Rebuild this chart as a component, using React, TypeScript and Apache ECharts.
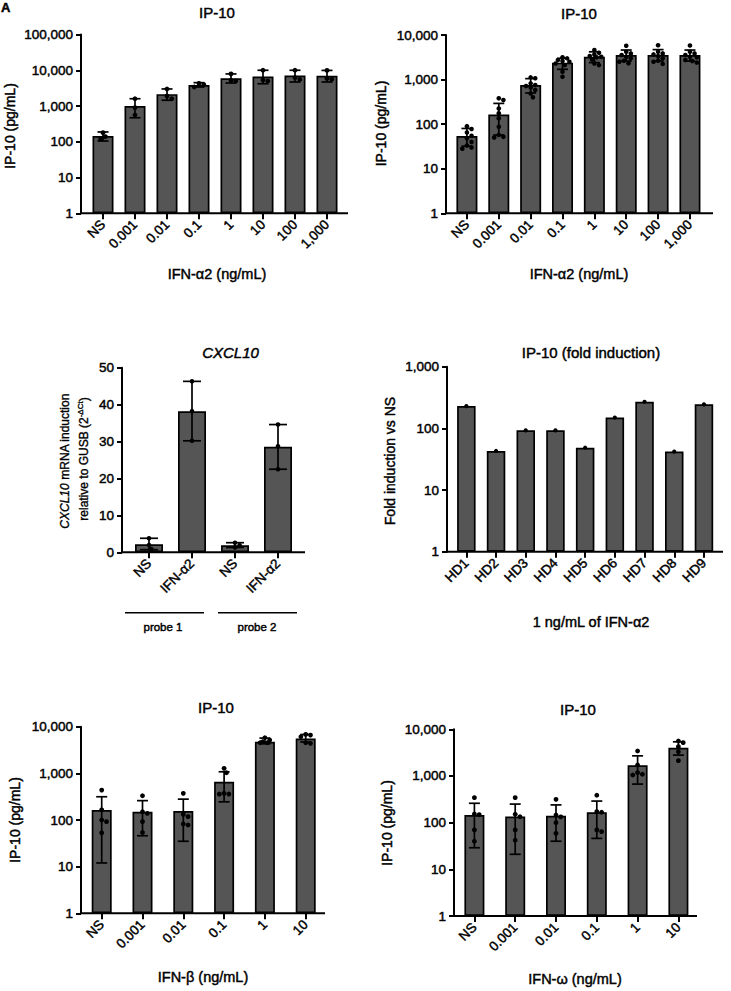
import React, { useEffect, useRef } from "react";
import * as echarts from "echarts";

const FONT = "'Liberation Sans', Arial, Helvetica, sans-serif";
const TB = 0.45; // slight text thickening

// ---------- DATA ----------
// Panel A: IP-10 (pg/mL) vs IFN-α2 dose
const catsA = ["NS", "0.001", "0.01", "0.1", "1", "10", "100", "1,000"];
const meanA = [145, 1000, 2150, 3850, 6000, 6700, 7100, 7000];
const lowA = [105, 470, 1450, 3400, 4400, 4200, 4700, 4700];
const highA = [188, 1600, 3000, 4500, 7900, 10000, 10000, 9900];
const dotsA = [
  [120, 140, 180],
  [1600, 900, 560],
  [3000, 1900, 1600],
  [4300, 4000, 3400],
  [7900, 5200, 5000],
  [10000, 5300, 5000],
  [10000, 6200, 5500],
  [9900, 5900, 5600],
];

// Panel B: IP-10 (pg/mL) vs IFN-α2 dose, 9 donors
const catsB = ["NS", "0.001", "0.01", "0.1", "1", "10", "100", "1,000"];
const meanB = [54, 165, 755, 2400, 3250, 3550, 3550, 3550];
const lowB = [32, 57, 500, 1700, 2400, 2600, 2600, 2600];
const highB = [80, 292, 1050, 3000, 4200, 4600, 4700, 4600];
const dotsB = [
  [90, 78, 65, 55, 48, 40, 33, 30, 28],
  [380, 347, 225, 175, 135, 87, 57, 52, 50],
  [1120, 1070, 822, 753, 715, 668, 582, 490, 400],
  [3150, 2990, 2740, 2600, 2500, 2300, 2110, 1500, 1155],
  [4600, 4000, 3670, 3360, 3240, 3150, 2830, 2300, 2110],
  [5730, 4200, 3860, 3550, 3240, 2990, 2640, 2510, 2310],
  [5900, 4200, 3860, 3670, 3360, 2990, 2640, 2510, 2250],
  [5800, 4200, 3860, 3550, 3240, 3150, 2740, 2600, 2400],
];

// Panel C: CXCL10 mRNA induction
const catsC = ["NS", "IFN-α2", "NS", "IFN-α2"];
const meanC = [2.2, 38.2, 1.9, 28.6];
const lowC = [0.7, 30.2, 1.3, 22.5];
const highC = [3.8, 46.3, 2.6, 34.6];
const dotsC = [
  [3.8, 2.0, 0.9],
  [46.3, 38.2, 30.2],
  [2.6, 1.9, 1.3],
  [34.6, 28.7, 22.5],
];
const groupsC = ["probe 1", "probe 2"];

// Panel D: fold induction per donor
const catsD = ["HD1", "HD2", "HD3", "HD4", "HD5", "HD6", "HD7", "HD8", "HD9"];
const foldD = [230, 43, 93, 93, 48.5, 150, 270, 42, 245];

// Panel E: IP-10 vs IFN-β
const catsE = ["NS", "0.001", "0.01", "0.1", "1", "10"];
const meanE = [163, 150, 155, 660, 4750, 5600];
const lowE = [12, 46, 35, 245, 4300, 4700];
const highE = [315, 260, 280, 1080, 5700, 6800];
const dotsE = [
  [437, 165, 100, 92, 53],
  [331, 150, 139, 92, 54],
  [373, 132, 118, 82, 78],
  [1280, 1030, 373, 360, 360],
  [5790, 5170, 4760, 4530, 4530],
  [6840, 6610, 6080, 4530, 4400],
];

// Panel F: IP-10 vs IFN-ω
const catsF = ["NS", "0.001", "0.01", "0.1", "1", "10"];
const meanF = [145, 135, 140, 167, 1700, 4000];
const lowF = [29, 21, 40, 46, 670, 2800];
const highF = [260, 250, 240, 290, 2700, 5400];
const dotsF = [
  [343, 153, 148, 70, 40],
  [343, 151, 134, 70, 42],
  [316, 146, 133, 100, 59],
  [386, 172, 167, 70, 64],
  [3430, 1720, 1176, 1087, 1050],
  [5620, 5170, 4250, 3310, 2130],
];

// ---------- PANELS ----------
type Panel = {
  cats: string[];
  means: number[];
  lows?: number[];
  highs?: number[];
  dots?: number[][];
  yType: "log" | "value";
  yMin: number;
  yMax: number;
  yInterval?: number;
  title: string;
  titleItalic?: boolean;
  xName?: string;
  yName?: string;
};

const PANELS: Panel[] = [
  { cats: catsA, means: meanA, lows: lowA, highs: highA, dots: dotsA, yType: "log", yMin: 1, yMax: 100000, title: "IP-10", xName: "IFN-α2 (ng/mL)", yName: "IP-10 (pg/mL)" },
  { cats: catsB, means: meanB, lows: lowB, highs: highB, dots: dotsB, yType: "log", yMin: 1, yMax: 10000, title: "IP-10", xName: "IFN-α2 (ng/mL)", yName: "IP-10 (pg/mL)" },
  { cats: catsC, means: meanC, lows: lowC, highs: highC, dots: dotsC, yType: "value", yMin: 0, yMax: 50, yInterval: 10, title: "CXCL10", titleItalic: true },
  { cats: catsD, means: foldD, dots: foldD.map((v) => [v]), yType: "log", yMin: 1, yMax: 1000, title: "IP-10 (fold induction)", xName: "1 ng/mL of IFN-α2", yName: "Fold induction vs NS" },
  { cats: catsE, means: meanE, lows: lowE, highs: highE, dots: dotsE, yType: "log", yMin: 1, yMax: 10000, title: "IP-10", xName: "IFN-β (ng/mL)", yName: "IP-10 (pg/mL)" },
  { cats: catsF, means: meanF, lows: lowF, highs: highF, dots: dotsF, yType: "log", yMin: 1, yMax: 10000, title: "IP-10", xName: "IFN-ω (ng/mL)", yName: "IP-10 (pg/mL)" },
];

// ---------- LAYOUT (pixels) ----------
const LAYOUT = [
  { yAxisX: 81, left: 87, band: 32, top: 34.5, bottom: 213.3, axisEnd: 348, barWidth: 21, cap: 11, dotR: 2.4, title: [217, 12], xName: [217, 274], yName: [10, 126] },
  { yAxisX: 446, left: 451, band: 31.86, top: 35, bottom: 213.3, axisEnd: 713, barWidth: 21, cap: 11, dotR: 2.3, title: [579, 13], xName: [579, 274], yName: [380.5, 123.5] },
  { yAxisX: 122, left: 127.5, band: 43, top: 367.7, bottom: 552.3, axisEnd: 305, barWidth: 28, cap: 18, dotR: 2.3, title: [230.5, 352], xName: null, yName: null },
  { yAxisX: 447, left: 451.5, band: 29.7, top: 366.7, bottom: 551.7, axisEnd: 723, barWidth: 18.5, cap: 0, dotR: 2.1, title: [591, 352], xName: [591, 622], yName: [389.5, 461] },
  { yAxisX: 81, left: 81.3, band: 40.8, top: 726.7, bottom: 913.3, axisEnd: 325, barWidth: 20, cap: 11, dotR: 2.4, title: [216, 707], xName: [203, 977], yName: [15, 820] },
  { yAxisX: 454, left: 454, band: 40.8, top: 729.3, bottom: 916, axisEnd: 697, barWidth: 20, cap: 11, dotR: 2.4, title: [578, 709], xName: [575, 979], yName: [386.7, 823] },
];

// panel C extras: group bars and two-line y-axis name
const C_GROUP_LINES = [
  { x1: 125, x2: 204, y: 612.7, label: [163, 627] },
  { x1: 218, x2: 297, y: 612.7, label: [257, 627] },
];
const C_YNAME = [
  [65, 461],
  [83, 459],
];

function swarm(ys: number[], d: number, maxOff: number): number[] {
  const order = ys.map((_, i) => i).sort((a, b) => ys[a] - ys[b]);
  const placed: { x: number; y: number }[] = [];
  const out = new Array(ys.length).fill(0);
  const step = d / 2;
  const cands: number[] = [0];
  for (let s = step; s <= maxOff + 0.01; s += step) {
    cands.push(s, -s);
  }
  for (const idx of order) {
    let best = 0;
    let bestScore = -1;
    for (const c of cands) {
      let minD = Infinity;
      for (const p of placed) {
        const dd = Math.hypot(p.x - c, p.y - ys[idx]);
        if (dd < minD) minD = dd;
      }
      if (minD >= d * 0.95) {
        best = c;
        bestScore = Infinity;
        break;
      }
      if (minD > bestScore) {
        bestScore = minD;
        best = c;
      }
    }
    placed.push({ x: best, y: ys[idx] });
    out[idx] = best;
  }
  return out;
}

function fmtTick(v: number) {
  const r = Math.round(v);
  return r.toLocaleString("en-US");
}

function txt(x: number, y: number, text: string, fontSize: number, extra: any = {}, rotation = 0) {
  return {
    type: "text",
    silent: true,
    x,
    y,
    rotation,
    style: {
      text,
      fontSize,
      fontFamily: FONT,
      fill: "#000",
      stroke: "#000",
      lineWidth: TB,
      align: "center",
      verticalAlign: "middle",
      ...extra,
    },
  };
}

function buildOption() {
  const grid: any[] = [];
  const xAxis: any[] = [];
  const yAxis: any[] = [];
  const series: any[] = [];
  const graphic: any[] = [];

  PANELS.forEach((p, i) => {
    const L = LAYOUT[i];
    grid.push({
      left: L.left,
      top: L.top,
      width: L.band * p.cats.length,
      height: L.bottom - L.top,
    });
    xAxis.push({
      type: "category",
      gridIndex: i,
      data: p.cats,
      boundaryGap: true,
      axisLine: { show: false },
      axisTick: { show: true, alignWithLabel: true, length: 6, lineStyle: { color: "#000", width: 2 } },
      axisLabel: {
        rotate: 45,
        interval: 0,
        fontSize: 13.5,
        color: "#000",
        fontFamily: FONT,
        margin: 9,
        textBorderColor: "#000",
        textBorderWidth: TB,
      },
      splitLine: { show: false },
    });
    const y: any = {
      type: p.yType,
      gridIndex: i,
      min: p.yMin,
      max: p.yMax,
      offset: Math.max(0, L.left - L.yAxisX),
      axisLine: { show: true, lineStyle: { color: "#000", width: 2 } },
      axisTick: { show: true, length: 5, lineStyle: { color: "#000", width: 2 } },
      axisLabel: {
        fontSize: 13.5,
        color: "#000",
        fontFamily: FONT,
        margin: 8,
        formatter: fmtTick,
        textBorderColor: "#000",
        textBorderWidth: TB,
      },
      splitLine: { show: false },
      minorTick: { show: false },
    };
    if (p.yType === "log") y.logBase = 10;
    if (p.yInterval) y.interval = p.yInterval;
    yAxis.push(y);

    series.push({
      type: "bar",
      xAxisIndex: i,
      yAxisIndex: i,
      data: p.means,
      barWidth: L.barWidth,
      silent: true,
      z: 2,
      itemStyle: { color: "#555555", borderColor: "#000", borderWidth: 1.7 },
    });

    if (p.lows && p.highs) {
      const highs = p.highs;
      const cap = L.cap;
      series.push({
        type: "custom",
        xAxisIndex: i,
        yAxisIndex: i,
        silent: true,
        z: 3,
        data: p.lows.map((lo, k) => [k, lo, highs[k]]),
        encode: { x: 0, y: [1, 2] },
        renderItem: (_params: any, api: any) => {
          const k = api.value(0);
          const a = api.coord([k, api.value(1)]);
          const b = api.coord([k, api.value(2)]);
          const h = cap / 2;
          const st = { stroke: "#000", lineWidth: 1.7 };
          return {
            type: "group",
            children: [
              { type: "line", shape: { x1: a[0], y1: a[1], x2: b[0], y2: b[1] }, style: st },
              { type: "line", shape: { x1: a[0] - h, y1: a[1], x2: a[0] + h, y2: a[1] }, style: st },
              { type: "line", shape: { x1: b[0] - h, y1: b[1], x2: b[0] + h, y2: b[1] }, style: st },
            ],
          };
        },
      });
    }

    if (p.dots) {
      const dots = p.dots;
      const r = L.dotR;
      const maxOff = L.barWidth / 2 - r - 1;
      const data: number[][] = [];
      dots.forEach((arr, k) => arr.forEach((v, j) => data.push([k, v, j])));
      series.push({
        type: "custom",
        xAxisIndex: i,
        yAxisIndex: i,
        silent: true,
        z: 4,
        data,
        encode: { x: 0, y: 1 },
        renderItem: (_params: any, api: any) => {
          const k = api.value(0);
          const j = api.value(2);
          const ys = dots[k].map((v) => api.coord([k, v])[1]);
          const offs = swarm(ys, r * 2, maxOff);
          const c = api.coord([k, api.value(1)]);
          return { type: "circle", shape: { cx: c[0] + offs[j], cy: c[1], r }, style: { fill: "#000" } };
        },
      });
    }

    // baseline (x axis line)
    graphic.push({
      type: "line",
      silent: true,
      z: 10,
      shape: { x1: L.yAxisX - 1, y1: L.bottom, x2: L.axisEnd, y2: L.bottom },
      style: { stroke: "#000", lineWidth: 2 },
    });
    graphic.push(txt(L.title[0], L.title[1], p.title, 15, { fontStyle: p.titleItalic ? "italic" : "normal" }));
    if (p.xName && L.xName) graphic.push(txt(L.xName[0], L.xName[1], p.xName, 14.5));
    if (p.yName && L.yName) graphic.push(txt(L.yName[0], L.yName[1], p.yName, 14, {}, Math.PI / 2));
  });

  // panel C extras
  C_GROUP_LINES.forEach((g, k) => {
    graphic.push({
      type: "line",
      silent: true,
      shape: { x1: g.x1, y1: g.y, x2: g.x2, y2: g.y },
      style: { stroke: "#000", lineWidth: 1.5 },
    });
    graphic.push(txt(g.label[0], g.label[1], groupsC[k], 11.5));
  });
  const tok = (fs: number, more: any = {}) => ({ fontSize: fs, fontFamily: FONT, fill: "#000", stroke: "#000", lineWidth: TB * 0.8, ...more });
  graphic.push(
    txt(C_YNAME[0][0], C_YNAME[0][1], "{i|CXCL10} {n|mRNA induction}", 12, {
      rich: { i: tok(12, { fontStyle: "italic" }), n: tok(12) },
    }, Math.PI / 2)
  );
  graphic.push(
    txt(C_YNAME[1][0], C_YNAME[1][1], "{n|relative to GUSB (2}{s|-ΔCt}{n|)}", 12, {
      rich: {
        n: tok(12, { lineHeight: 14, verticalAlign: "bottom" }),
        s: tok(8, { lineHeight: 14, verticalAlign: "top" }),
      },
    }, Math.PI / 2)
  );
  // panel letter
  graphic.push(txt(1, 1, "A", 13, { fontWeight: "bold", align: "left", verticalAlign: "top" }));

  return {
    animation: false,
    backgroundColor: "#ffffff",
    grid,
    xAxis,
    yAxis,
    series,
    graphic,
  };
}

export default function App() {
  const ref = useRef<HTMLDivElement>(null);
  useEffect(() => {
    if (!ref.current) return;
    const chart = echarts.init(ref.current, undefined, { renderer: "svg", width: 731, height: 991 });
    chart.setOption(buildOption() as any);
    return () => {
      chart.dispose();
    };
  }, []);
  return (
    <div
      ref={ref}
      style={{ position: "absolute", left: 0, top: 0, width: 731, height: 991, background: "#fff" }}
    />
  );
}
